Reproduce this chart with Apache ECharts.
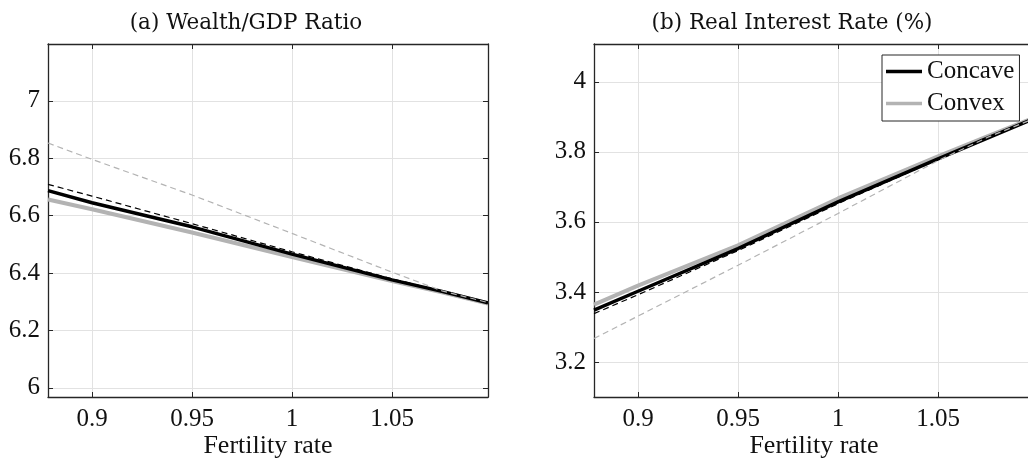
<!DOCTYPE html>
<html>
<head>
<meta charset="utf-8">
<script src="https://cdn.jsdelivr.net/npm/echarts@6/dist/echarts.min.js"></script>
<style>
html,body{margin:0;padding:0;background:#fff;}
#chart{width:1028px;height:458px;}
</style>
</head>
<body>
<div id="chart"></div>
<script>
// ---- data ----
const fertility = [0.878, 0.9, 0.95, 1.0, 1.05, 1.075, 1.098];

// (a) Wealth/GDP ratio
const wealthConcave       = [6.687, 6.645, 6.561, 6.466, 6.376, 6.336, 6.296];
const wealthConvex        = [6.656, 6.622, 6.541, 6.456, 6.372, 6.333, 6.294];
const wealthConcaveDashed = [6.709, 6.668, 6.572, 6.474, 6.380, 6.337, 6.296];
const wealthConvexDashed  = [6.853, 6.796, 6.672, 6.538, 6.403, 6.338, 6.297];

// (b) Real interest rate (%)
const rateConcave       = [3.348, 3.402, 3.524, 3.657, 3.780, 3.840, 3.895];
const rateConvex        = [3.364, 3.418, 3.533, 3.667, 3.787, 3.845, 3.897];
const rateConcaveDashed = [3.338, 3.392, 3.518, 3.652, 3.778, 3.840, 3.895];
const rateConvexDashed  = [3.267, 3.331, 3.476, 3.624, 3.775, 3.842, 3.895];

const titles = ['(a) Wealth/GDP Ratio', '(b) Real Interest Rate (%)'];
const xName = 'Fertility rate';
const legendNames = ['Concave', 'Convex'];

const xRange = [0.878, 1.098];
const yRangeA = [5.968, 7.198];
const yRangeB = [3.10, 4.108];

// ---- styling ----
const AX = '#262626';
const GRIDC = '#e2e2e2';
const GRAY = '#b3b3b3';
const SERIF = 'Liberation Serif';

function pairs(xs, ys){ return xs.map((x,i)=>[x, ys[i]]); }

function mainX(gi){
  return {
    type:'value', gridIndex:gi, min:xRange[0], max:xRange[1], splitNumber:4,
    position:'bottom',
    axisLine:{show:true, onZero:false, lineStyle:{color:AX, width:1.3}},
    axisTick:{show:true, inside:true, length:5, lineStyle:{color:AX, width:1}},
    axisLabel:{show:true, margin:10, color:'#111', fontFamily:SERIF, fontSize:25,
               showMinLabel:false, showMaxLabel:false},
    splitLine:{show:true, lineStyle:{color:GRIDC, width:1}},
    name:xName, nameLocation:'middle', nameGap:36, nameMoveOverlap:false,
    nameTextStyle:{color:'#111', fontFamily:SERIF, fontSize:26}
  };
}
function mirrorX(gi){
  return {
    type:'value', gridIndex:gi, min:xRange[0], max:xRange[1], splitNumber:4,
    position:'top',
    axisLine:{show:true, onZero:false, lineStyle:{color:AX, width:1.3}},
    axisTick:{show:true, inside:true, length:5, lineStyle:{color:AX, width:1}},
    axisLabel:{show:false}, splitLine:{show:false}
  };
}
function mainY(gi, r){
  return {
    type:'value', gridIndex:gi, min:r[0], max:r[1], splitNumber:6,
    position:'left',
    axisLine:{show:true, onZero:false, lineStyle:{color:AX, width:1.3}},
    axisTick:{show:true, inside:true, length:5, lineStyle:{color:AX, width:1}},
    axisLabel:{show:true, margin:8, color:'#111', fontFamily:SERIF, fontSize:25,
               showMinLabel:false, showMaxLabel:false},
    splitLine:{show:true, lineStyle:{color:GRIDC, width:1}}
  };
}
function mirrorY(gi, r){
  return {
    type:'value', gridIndex:gi, min:r[0], max:r[1], splitNumber:6,
    position:'right',
    axisLine:{show:true, onZero:false, lineStyle:{color:AX, width:1.3}},
    axisTick:{show:true, inside:true, length:5, lineStyle:{color:AX, width:1}},
    axisLabel:{show:false}, splitLine:{show:false}
  };
}

function line(name, xi, yi, ys, color, width, dashed, z){
  return {
    name:name, type:'line', xAxisIndex:xi, yAxisIndex:yi,
    data:pairs(fertility, ys), symbol:'none', showSymbol:false,
    lineStyle:{color:color, width:width, type: dashed ? [6,4] : 'solid'},
    itemStyle:{color:color}, z:z, silent:true, animation:false
  };
}

const option = {
  animation:false,
  backgroundColor:'#fff',
  grid:[
    {left:48, top:44, width:440, height:353, containLabel:false, outerBoundsMode:'none'},
    {left:594, top:44, width:440, height:353, containLabel:false, outerBoundsMode:'none'}
  ],
  xAxis:[mainX(0), mirrorX(0), mainX(1), mirrorX(1)],
  yAxis:[mainY(0, yRangeA), mirrorY(0, yRangeA), mainY(1, yRangeB), mirrorY(1, yRangeB)],
  legend:{
    data:legendNames, orient:'vertical', left:882, top:55,
    padding:[4,5,5,4], itemGap:7, itemWidth:36, itemHeight:3.5, icon:'rect',
    borderColor:AX, borderWidth:1, backgroundColor:'#fff',
    textStyle:{color:'#111', fontFamily:SERIF, fontSize:25},
    selectedMode:false
  },
  graphic:[
    {type:'text', x:246, y:23, style:{text:titles[0], align:'center', verticalAlign:'middle',
      fontFamily:'DejaVu Serif', fontSize:21.5, fill:'#111'}},
    {type:'text', x:792, y:23, style:{text:titles[1], align:'center', verticalAlign:'middle',
      fontFamily:'DejaVu Serif', fontSize:21.5, fill:'#111'}}
  ],
  series:[
    line('Convex', 0, 0, wealthConvex, GRAY, 4, false, 2),
    line('Concave', 0, 0, wealthConcave, '#000', 3.5, false, 3),
    line('Concave dashed', 0, 0, wealthConcaveDashed, '#000', 1.2, true, 4),
    line('Convex dashed', 0, 0, wealthConvexDashed, GRAY, 1.2, true, 4),
    line('Convex', 2, 2, rateConvex, GRAY, 4, false, 2),
    line('Concave', 2, 2, rateConcave, '#000', 3.5, false, 3),
    line('Concave dashed', 2, 2, rateConcaveDashed, '#000', 1.2, true, 4),
    line('Convex dashed', 2, 2, rateConvexDashed, GRAY, 1.2, true, 4)
  ]
};

const chart = echarts.init(document.getElementById('chart'), null, {renderer:'canvas'});
chart.setOption(option);
</script>
</body>
</html>
